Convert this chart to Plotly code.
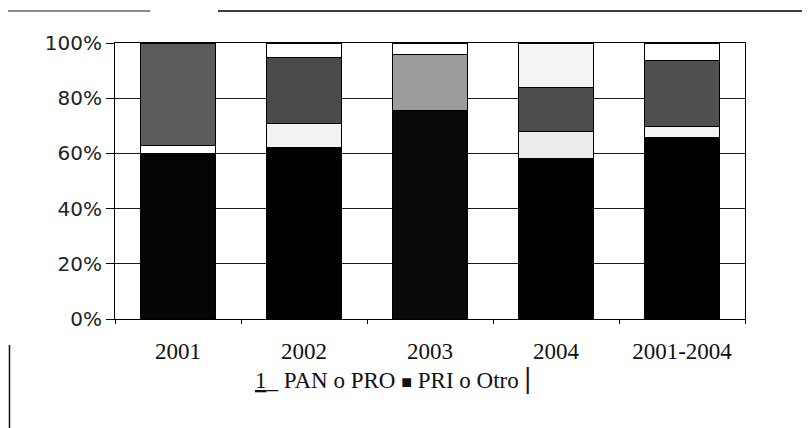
import plotly.graph_objects as go

categories = ["2001", "2002", "2003", "2004", "2001-2004"]
pan = [59.8, 62.0, 75.4, 58.0, 65.9]
prd = [2.9, 9.0, 0.0, 9.8, 3.7]
pri = [37.3, 23.9, 20.6, 15.9, 23.9]
otro = [0.0, 5.1, 4.0, 16.3, 6.5]
y_ticks = [0, 20, 40, 60, 80, 100]
y_tick_labels = ["0%", "20%", "40%", "60%", "80%", "100%"]
legend_text = ("<u>1</u>_ PAN o PRO <span style='font-size:18px'>■</span> PRI o Otro "
               "<span style='font-size:29px'><b>|</b></span>")

pan_colors = ["#050505", "#000000", "#0a0a0a", "#000000", "#000000"]
prd_colors = ["#ffffff", "#f3f3f3", "#ffffff", "#ececec", "#f4f4f4"]
pri_colors = ["#5c5c5c", "#4a4a4a", "#9c9c9c", "#4e4e4e", "#505050"]
otro_colors = ["#ffffff", "#ffffff", "#ffffff", "#f4f4f4", "#ffffff"]

fig = go.Figure()
for name, vals, cols in [("PAN", pan, pan_colors), ("PRD", prd, prd_colors),
                         ("PRI", pri, pri_colors), ("Otro", otro, otro_colors)]:
    fig.add_trace(go.Bar(
        x=categories, y=vals, name=name,
        marker=dict(color=cols, line=dict(color="#000000", width=1)),
        showlegend=False,
    ))

fig.update_layout(
    barmode="stack",
    bargap=0.4,
    width=810, height=428,
    margin=dict(l=107, r=73, t=35, b=117),
    paper_bgcolor="white", plot_bgcolor="white",
    font=dict(family="Liberation Serif", color="#111111"),
    xaxis=dict(
        type="category",
        showline=True, linecolor="#000000", linewidth=1, mirror=True,
        ticks="outside", tickson="boundaries", ticklen=4, tickcolor="#000000",
        tickfont=dict(family="Liberation Serif", size=23, color="#111111"),
        ticklabelstandoff=11,
        showgrid=False,
    ),
    yaxis=dict(
        range=[0, 100],
        tickvals=y_ticks, ticktext=y_tick_labels,
        showline=True, linecolor="#000000", linewidth=1, mirror=True,
        ticks="outside", ticklen=8, tickcolor="#000000",
        tickfont=dict(family="DejaVu Sans", size=20, color="#222222"),
        showgrid=True, gridcolor="#1a1a1a", gridwidth=1,
        zeroline=False,
    ),
    shapes=[
        dict(type="line", xref="paper", yref="paper", x0=-0.17, x1=0.056, y0=1.116, y1=1.116,
             line=dict(color="#8a8a8a", width=2)),
        dict(type="line", xref="paper", yref="paper", x0=0.1635, x1=1.13, y0=1.116, y1=1.116,
             line=dict(color="#000000", width=1.5)),
        dict(type="line", xref="paper", yref="paper", x0=-0.1675, x1=-0.1675, y0=-0.094, y1=-0.42,
             line=dict(color="#111111", width=1.5)),
    ],
    annotations=[
        dict(text=legend_text, xref="paper", yref="paper", x=0.441, y=-0.214,
             xanchor="center", yanchor="middle", showarrow=False,
             font=dict(family="Liberation Serif", size=23, color="#111111")),
    ],
)

fig.write_html("out.html")
